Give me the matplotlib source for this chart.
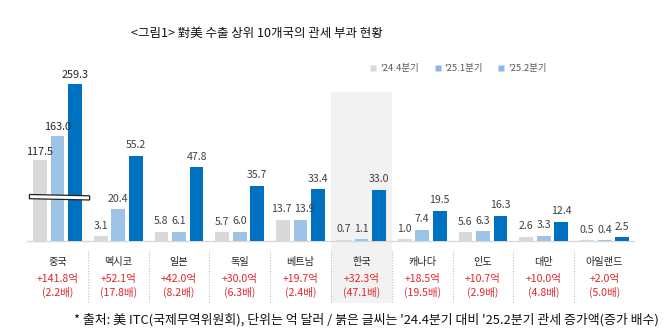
import matplotlib
matplotlib.use("Agg")
import matplotlib.pyplot as plt
from matplotlib.patches import Rectangle, Polygon
from matplotlib.lines import Line2D
import numpy as np

plt.rcParams['font.family'] = ['Noto Sans CJK KR', 'DejaVu Sans']

# ---------------- data ----------------
categories = ['중국', '멕시코', '일본', '독일', '베트남', '한국', '캐나다', '인도', '대만', '아일랜드']
q4_24 = [117.5, 3.1, 5.8, 5.7, 13.7, 0.7, 1.0, 5.6, 2.6, 0.5]
q1_25 = [163.0, 20.4, 6.1, 6.0, 13.9, 1.1, 7.4, 6.3, 3.3, 0.4]
q2_25 = [259.3, 55.2, 47.8, 35.7, 33.4, 33.0, 19.5, 16.3, 12.4, 2.5]
increase = ['+141.8억', '+52.1억', '+42.0억', '+30.0억', '+19.7억',
            '+32.3억', '+18.5억', '+10.7억', '+10.0억', '+2.0억']
multiple = ['(2.2배)', '(17.8배)', '(8.2배)', '(6.3배)', '(2.4배)',
            '(47.1배)', '(19.5배)', '(2.9배)', '(4.8배)', '(5.0배)']
series_names = ["'24.4분기", "'25.1분기", "'25.2분기"]
title = '<그림1> 對美 수출 상위 10개국의 관세 부과 현황'
footnote = "* 출처: 美 ITC(국제무역위원회), 단위는 억 달러 / 붉은 글씨는 '24.4분기 대비 '25.2분기 관세 증가액(증가 배수)"

# ---------------- style ----------------
colors = ['#d9d9d9', '#9dc3e6', '#0070c0']
legend_colors = ['#d9d9d9', '#8ab8e6', '#8ab8e6']
label_color = '#404040'
red = '#e0262b'

W, H = 670, 328
fig = plt.figure(figsize=(W / 100, H / 100), dpi=100)

# axes geometry (pixels)
ax_left, ax_right = 27, 635
ax_top, ax_bottom = 80, 305
baseline_px = 241
px_per_unit = 1.545
ymax = (baseline_px - ax_top) / px_per_unit
ymin = -(ax_bottom - baseline_px) / px_per_unit

ax = fig.add_axes([ax_left / W, (H - ax_bottom) / H,
                   (ax_right - ax_left) / W, (ax_bottom - ax_top) / H])
ax.set_xlim(-0.5, 9.5)
ax.set_ylim(ymin, ymax)
ax.axis('off')

# compressed (broken) scale for China on a twin axis: main_y = a + b * v
a_c, b_c = 11.0, 0.35
ax2 = ax.twinx()
ax2.set_ylim((ymin - a_c) / b_c, (ymax - a_c) / b_c)
ax2.axis('off')
china_bottom = (0 - a_c) / b_c

def py(px):
    return (baseline_px - px) / px_per_unit

# Korea highlight
ax.add_patch(Rectangle((4.5, py(303)), 1.0, py(92) - py(303),
                       facecolor='#f2f2f2', edgecolor='none', zorder=0))

# baseline
ax.axhline(0, color='#d9d9d9', lw=1.0, zorder=1)

x = np.arange(len(categories))
bw = 0.225
offs = [-0.288, 0.0, 0.288]
series = [q4_24, q1_25, q2_25]
# small horizontal nudges (points) for crowded value labels
nudge = {(4, 0): -1.5, (4, 1): 3.0}

for s, (vals, off, c) in enumerate(zip(series, offs, colors)):
    for i, v in enumerate(vals):
        xi = x[i] + off
        dx = nudge.get((i, s), 0)
        if i == 0:
            ax2.bar(xi, v - china_bottom, bottom=china_bottom, width=bw,
                    color=c, zorder=2)
            ax2.annotate(f'{v:.1f}', (xi, v), xytext=(dx, 2.5),
                         textcoords='offset points', ha='center', va='bottom',
                         fontsize=7.8, color='#262626')
        else:
            ax.bar(xi, v, width=bw, color=c, zorder=2)
            ax.annotate(f'{v:.1f}', (xi, v), xytext=(dx, 4),
                        textcoords='offset points', ha='center', va='bottom',
                        fontsize=7.6, color=label_color)

# break symbol on China bars
brk = Polygon([(-0.46, py(194.5)), (0.53, py(195.8)), (0.53, py(200.0)),
               (-0.46, py(198.7))], closed=True, facecolor='white',
              edgecolor='#222222', lw=0.9, transform=ax.transData, zorder=5)
ax2.add_patch(brk)

# separators
for i in range(len(categories) - 1):
    ax.plot([i + 0.5, i + 0.5], [py(251), py(302)], color='#bfbfbf',
            lw=0.8, ls=(0, (1, 1.5)), zorder=1)

# category labels and increases
for i, cat in enumerate(categories):
    ax.text(x[i], py(262), cat, ha='center', va='center', fontsize=7.3,
            color='#262626')
    ax.text(x[i], py(279), increase[i], ha='center', va='center',
            fontsize=7.6, color=red)
    ax.text(x[i], py(292.5), multiple[i], ha='center', va='center',
            fontsize=7.6, color=red)

# legend
handles = [Line2D([0], [0], marker='s', ls='none', markersize=5,
                  markerfacecolor=c, markeredgecolor='none')
           for c in legend_colors]
leg = fig.legend(handles, series_names, loc='center',
                 bbox_to_anchor=(458 / W, (H - 69) / H), ncol=3, frameon=False,
                 fontsize=6.8, handlelength=0.8, handletextpad=0.3,
                 columnspacing=1.6, borderaxespad=0)
for t in leg.get_texts():
    t.set_color('#595959')

# title & footnote
fig.text(257 / W, (H - 33) / H, title, ha='center', va='center',
         fontsize=9.0, color='#111111')
fig.text(366 / W, (H - 320) / H, footnote, ha='center', va='center',
         fontsize=9.3, color='#111111')

fig.savefig('out.png', dpi=100)
